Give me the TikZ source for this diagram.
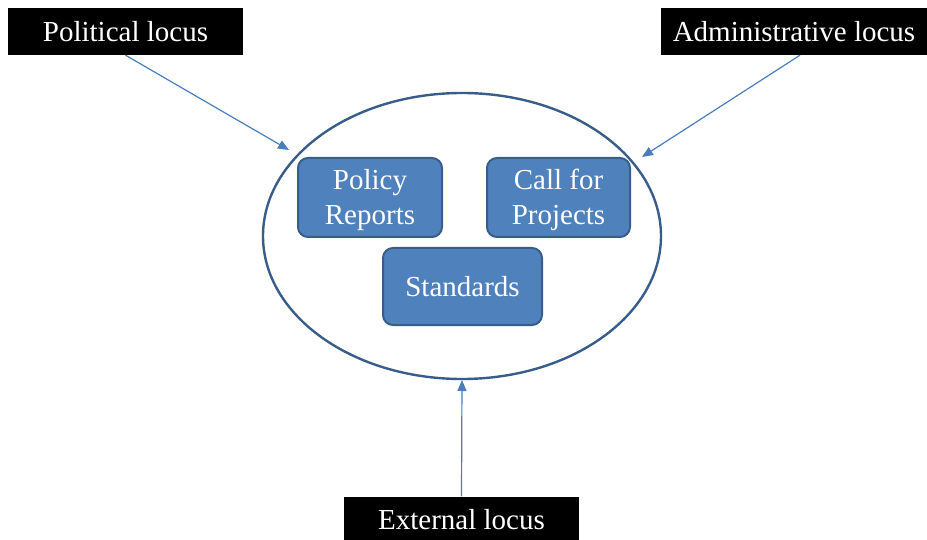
\documentclass[tikz,border=0pt]{standalone}
\usepackage{fontspec}
\setmainfont{Liberation Serif}
\usetikzlibrary{arrows.meta}
\definecolor{boxfill}{HTML}{4F81BD}
\definecolor{boxline}{HTML}{385D8A}
\definecolor{arrowc}{HTML}{4A7EBB}
\begin{document}
\begin{tikzpicture}[x=1pt,y=-1pt,
  locus/.style={fill=black,text=white,inner sep=0pt,font=\fontsize{29}{29}\selectfont},
  item/.style={fill=boxfill,draw=boxline,line width=2pt,rounded corners=10pt,text=white,inner sep=0pt,align=center,font=\fontsize{29}{35}\selectfont},
  conn/.style={draw=arrowc,line width=1.2pt,-{Triangle[length=11pt,width=9pt]}}]
\useasboundingbox (0,0) rectangle (927,540);
\node[locus,minimum width=235pt,minimum height=47pt] (pol) at (125.5,31.5) {Political locus};
\node[locus,minimum width=266pt,minimum height=47pt] (adm) at (794,31.5) {Administrative locus};
\node[locus,minimum width=235pt,minimum height=47pt] (ext) at (461.5,520) {External locus};
\draw[boxline,line width=2.4pt] (462,236) ellipse [x radius=199, y radius=143];
\coordinate (e1) at (289,150);
\coordinate (e2) at (642,157);
\coordinate (e3) at (462,380);
\node[item,minimum width=144pt,minimum height=79pt] (pr) at (370,197.5) {\rule{0pt}{26pt}Policy\\Reports};
\node[item,minimum width=143pt,minimum height=79pt] (cp) at (558.5,197.5) {\rule{0pt}{26pt}Call for\\Projects};
\node[item,minimum width=159pt,minimum height=77pt] (st) at (462.5,286.5) {Standards};
\draw[conn] (pol.south) -- (e1);
\draw[conn] ([xshift=6pt]adm.south) -- (e2);
\draw[conn] (ext.north) -- (e3);
\end{tikzpicture}
\end{document}
